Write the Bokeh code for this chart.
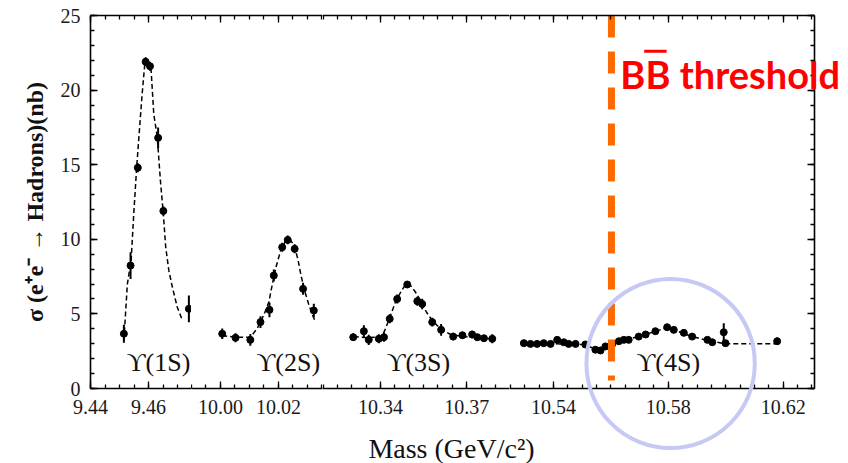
from bokeh.plotting import figure
from bokeh.layouts import row, column
from bokeh.models import Range1d, FixedTicker, LinearAxis, Label, CustomJSTickFormatter
from bokeh.embed import file_html
from bokeh.resources import INLINE

# ---------------- data ----------------
# Upsilon(1S) scan
s1_mass = [9.4515, 9.4538, 9.4563, 9.4590, 9.4605, 9.4633, 9.4651, 9.4739]
s1_sigma = [3.67, 8.24, 14.8, 21.9, 21.6, 16.8, 11.9, 5.34]
s1_err = [0.6, 0.9, 0.3, 0.3, 0.3, 0.7, 0.3, 0.9]
s1_fit_mass = [9.4515, 9.4527, 9.4540, 9.4549, 9.4559, 9.4570, 9.4578, 9.4587, 9.4598,
               9.4609, 9.4618, 9.4630, 9.4641, 9.4651, 9.4659, 9.4670, 9.4682, 9.4699, 9.4716]
s1_fit_sigma = [3.22, 7.0, 8.6, 11.7, 14.8, 17.7, 19.75, 21.75, 21.9,
                21.3, 18.4, 16.85, 13.9, 11.7, 9.5, 7.9, 6.8, 5.45, 4.6]

# Upsilon(2S) scan
s2_mass = [10.0006, 10.0052, 10.0103, 10.0138, 10.0169, 10.0184, 10.0213, 10.0232,
           10.0256, 10.0285, 10.0322]
s2_sigma = [3.67, 3.40, 3.26, 4.45, 5.27, 7.57, 9.47, 9.96, 9.36, 6.68, 5.23]
s2_err = [0.35, 0.3, 0.4, 0.4, 0.5, 0.4, 0.3, 0.3, 0.3, 0.4, 0.45]
s2_fit_mass = [10.0006, 10.0052, 10.0103, 10.0126, 10.0149, 10.0167, 10.0178, 10.0193,
               10.0207, 10.0224, 10.0239, 10.0255, 10.0268, 10.0278, 10.0290, 10.0304,
               10.0316, 10.0328]
s2_fit_sigma = [3.55, 3.44, 3.44, 4.0, 4.9, 5.8, 6.9, 8.24, 9.2, 9.87, 10.0, 9.58, 8.58,
                7.57, 6.57, 5.67, 5.0, 4.45]

# Upsilon(3S) scan
s3_mass = [10.3305, 10.3342, 10.3359, 10.3394, 10.3412, 10.3432, 10.3458, 10.3493,
           10.3528, 10.3545, 10.3580, 10.3611, 10.3653, 10.3685, 10.3719, 10.3737,
           10.3760, 10.3789]
s3_sigma = [3.44, 3.84, 3.26, 3.33, 3.44, 4.67, 6.0, 6.97, 5.85, 5.67, 4.45, 3.93, 3.48,
            3.57, 3.62, 3.44, 3.37, 3.33]
s3_err = [0.25, 0.4, 0.35, 0.3, 0.3, 0.3, 0.3, 0.2, 0.3, 0.35, 0.3, 0.4, 0.25, 0.2,
          0.25, 0.2, 0.2, 0.3]
s3_fit_mass = [10.3307, 10.3354, 10.3406, 10.3417, 10.3435, 10.3452, 10.3470, 10.3487,
               10.3502, 10.3522, 10.3539, 10.3560, 10.3580, 10.3609, 10.3644, 10.3690,
               10.3737, 10.3783]
s3_fit_sigma = [3.48, 3.40, 3.48, 4.0, 4.9, 5.8, 6.45, 6.97, 6.97, 6.45, 5.9, 5.11, 4.56,
                4.0, 3.62, 3.48, 3.40, 3.33]

# Upsilon(4S) scan
s4_mass = [10.5297, 10.5320, 10.5343, 10.5366, 10.5390, 10.5413, 10.5436, 10.5453,
           10.5477, 10.5511, 10.5546, 10.5564, 10.5581, 10.5605, 10.5628, 10.5645,
           10.5662, 10.5697, 10.5721, 10.5755, 10.5796, 10.5819, 10.5854, 10.5883,
           10.5936, 10.5953, 10.5993, 10.5999, 10.6179]
s4_sigma = [3.04, 2.99, 2.99, 3.04, 2.99, 3.26, 3.10, 2.99, 2.99, 2.95, 2.60, 2.55, 2.82,
            2.99, 3.17, 3.26, 3.26, 3.48, 3.62, 3.84, 4.11, 3.93, 3.73, 3.48, 3.26, 3.10,
            3.77, 3.04, 3.17]
s4_err = [0.1, 0.1, 0.1, 0.1, 0.1, 0.15, 0.1, 0.1, 0.1, 0.1, 0.2, 0.2, 0.15, 0.1, 0.15,
          0.1, 0.1, 0.15, 0.15, 0.1, 0.1, 0.1, 0.1, 0.1, 0.15, 0.15, 0.6, 0.15, 0.25]
s4_fit_mass = [10.5297, 10.5400, 10.5500, 10.5540, 10.5565, 10.5600, 10.5650, 10.5700,
               10.5750, 10.5790, 10.5830, 10.5880, 10.5930, 10.5970, 10.6000, 10.6100,
               10.6180]
s4_fit_sigma = [3.0, 3.0, 2.95, 2.7, 2.6, 2.95, 3.25, 3.5, 3.8, 4.05, 3.85, 3.5, 3.25,
                3.1, 3.0, 3.0, 3.0]

bb_threshold = 10.5602   # GeV/c^2

# axis ticks
x_major = [[9.44, 9.46], [10.00, 10.02], [10.34, 10.37], [10.54, 10.58, 10.62]]
x_labels = [["9.44", "9.46"], ["10.00", "10.02"], ["10.34", "10.37"],
            ["10.54", "10.58", "10.62"]]
y_major = [0, 5, 10, 15, 20, 25]
y_labels = ["0", "5", "10", "15", "20", "25"]
peak_names = ["ϒ(1S)", "ϒ(2S)", "ϒ(3S)", "ϒ(4S)"]

# ---------------- layout ----------------
W, H = 848, 463
seg_ranges = [(9.44, 9.4748), (9.990, 10.0352), (10.3198, 10.3849), (10.5247, 10.6309)]
frame_w = [101, 131, 187, 305]
LEFT, RIGHT, TOP, BOTTOM, FRAME_H = 90, 34, 15, 40, 373
XLAB_H = H - (TOP + FRAME_H + BOTTOM)
SERIF = "Liberation Serif"

y_range = Range1d(0, 25)

segments = [
    (s1_mass, s1_sigma, s1_err, s1_fit_mass, s1_fit_sigma),
    (s2_mass, s2_sigma, s2_err, s2_fit_mass, s2_fit_sigma),
    (s3_mass, s3_sigma, s3_err, s3_fit_mass, s3_fit_sigma),
    (s4_mass, s4_sigma, s4_err, s4_fit_mass, s4_fit_sigma),
]
label_pos = [(9.46345, 1.75), (10.0234, 1.75), (10.3532, 1.75), (10.5800, 1.75)]

blank = CustomJSTickFormatter(code="return ''")


def minor_list(lo, hi):
    out = []
    v = round(lo - (lo % 0.005), 3)
    while v <= hi + 1e-9:
        out.append(round(v, 3))
        v += 0.005
    return out


def style(ax, show_labels):
    ax.axis_line_color = "black"
    ax.axis_line_width = 1.6
    ax.major_tick_in = 7
    ax.major_tick_out = 0
    ax.minor_tick_in = 4
    ax.minor_tick_out = 0
    ax.major_tick_line_color = "black"
    ax.minor_tick_line_color = "black"
    ax.major_tick_line_width = 1.3
    ax.minor_tick_line_width = 1.3
    ax.major_label_text_font = SERIF
    ax.major_label_text_color = "#1a1a1a"
    ax.major_label_text_font_size = "20px"
    if not show_labels:
        ax.formatter = blank
        ax.major_label_standoff = 0


figs = []
for i, (rng, fw) in enumerate(zip(seg_ranges, frame_w)):
    left = LEFT if i == 0 else 0
    right = RIGHT if i == 3 else 0
    p = figure(width=fw + left + right, height=FRAME_H + TOP + BOTTOM,
               x_range=Range1d(*rng), y_range=y_range,
               x_axis_type=None, y_axis_type=None,
               output_backend="svg", toolbar_location=None)
    p.min_border = 0
    p.min_border_left = left
    p.min_border_right = right
    p.min_border_top = TOP
    p.min_border_bottom = BOTTOM
    p.outline_line_color = None
    p.background_fill_color = "white"
    p.border_fill_color = "white"

    xt = FixedTicker(ticks=x_major[i], minor_ticks=minor_list(rng[0], rng[1]))
    bx = LinearAxis(ticker=xt)
    style(bx, True)
    bx.major_label_standoff = 11
    bx.major_label_overrides = {t: l for t, l in zip(x_major[i], x_labels[i])}
    p.add_layout(bx, "below")
    tx = LinearAxis(ticker=FixedTicker(ticks=x_major[i], minor_ticks=minor_list(rng[0], rng[1])))
    style(tx, False)
    p.add_layout(tx, "above")

    yt = FixedTicker(ticks=y_major, minor_ticks=list(range(0, 26)))
    if i == 0:
        ly = LinearAxis(ticker=yt, axis_label="σ (e⁺e⁻ → Hadrons)(nb)")
        style(ly, True)
        ly.major_label_standoff = 10
        ly.major_label_overrides = {t: l for t, l in zip(y_major, y_labels)}
        ly.axis_label_text_font = SERIF
        ly.axis_label_text_font_size = "24px"
        ly.axis_label_text_font_style = "bold"
        ly.axis_label_text_color = "#111111"
        ly.axis_label_standoff = 10
        p.add_layout(ly, "left")
    if i == 3:
        ry = LinearAxis(ticker=FixedTicker(ticks=y_major, minor_ticks=list(range(0, 26))))
        style(ry, False)
        p.add_layout(ry, "right")

    m, s, e, fm, fs = segments[i]
    p.line(fm, fs, line_color="black", line_width=1.5, line_dash="5 3")
    p.segment(x0=m, y0=[a - b for a, b in zip(s, e)], x1=m,
              y1=[a + b for a, b in zip(s, e)], line_color="black", line_width=2)
    p.scatter(m, s, size=7, color="black")

    lx, lyy = label_pos[i]
    p.add_layout(Label(x=lx, y=lyy, text=peak_names[i], text_align="center",
                       text_baseline="alphabetic", text_font=SERIF,
                       text_font_size="26px", text_color="#111111"))
    figs.append(p)

f4 = figs[3]
# BB threshold marker line
f4.segment(x0=[bb_threshold], y0=[25], x1=[bb_threshold], y1=[0.54],
           line_color="#FF6A00", line_width=7, line_dash="22 14")

# x-axis title strip
fx = figure(width=W, height=XLAB_H, x_range=Range1d(0, W), y_range=Range1d(0, XLAB_H),
            x_axis_type=None, y_axis_type=None, output_backend="svg",
            toolbar_location=None)
fx.min_border = 0
fx.outline_line_color = None
fx.add_layout(Label(x=451, y=15, text="Mass (GeV/c²)", text_align="center",
                    text_baseline="middle", text_font=SERIF,
                    text_font_size="28px", text_color="#111111"))

# transparent overlay spanning the whole page, sharing the 4th segment's scales,
# so the annotations can run past that segment's frame
r0, r1 = seg_ranges[3]
sx = frame_w[3] / (r1 - r0)
f4_left = LEFT + sum(frame_w[:3])
sy = FRAME_H / 25.0
ov = figure(width=W, height=H,
            x_range=Range1d(r0 - f4_left / sx, r0 + (W - f4_left) / sx),
            y_range=Range1d(-(H - TOP - FRAME_H) / sy, 25 + TOP / sy),
            x_axis_type=None, y_axis_type=None, output_backend="svg",
            toolbar_location=None, margin=(-H, 0, 0, 0))
ov.min_border = 0
ov.outline_line_color = None
ov.background_fill_color = None
ov.border_fill_color = None
ov.add_layout(Label(x=10.5633, y=21.1, text="BB threshold", text_font="Lato",
                    text_font_style="bold", text_font_size="38px",
                    text_color="#FF0000", text_baseline="alphabetic"))
ov.segment(x0=[10.5716], y0=[22.6], x1=[10.5794], y1=[22.6],
           line_color="#FF0000", line_width=3)
# highlight circle around Upsilon(4S)
ov.add_layout(Label(x=10.5808, y=1.68, text=" ", text_font_size="1px",
                    text_align="center", text_baseline="middle",
                    padding=84, border_radius=84,
                    border_line_color="#C6C9F3", border_line_width=4,
                    background_fill_color=None))

layout = column(row(*figs), fx, ov)
open("out.html", "w").write(file_html(layout, INLINE))
